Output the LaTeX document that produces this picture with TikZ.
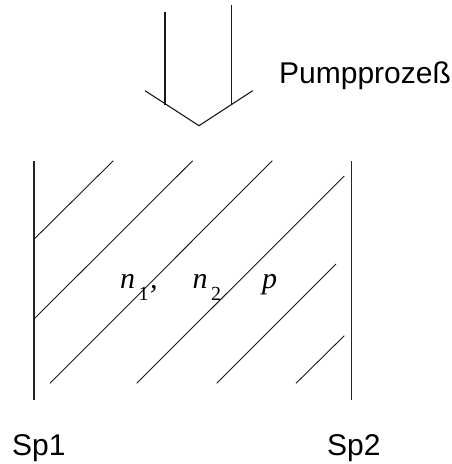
\documentclass[tikz,border=0pt]{standalone}
\usepackage{fontspec}
\setmainfont{Liberation Sans}
\newfontfamily\timesfont{Liberation Serif}
\begin{document}
\begin{tikzpicture}[x=1pt,y=-1pt,
  wall/.style={line width=1.1pt, draw=black!85},
  hatch/.style={line width=0.9pt, draw=black!90},
  arrowline/.style={line width=1.1pt, draw=black!90},
  lab/.style={inner sep=0pt, anchor=base west, font=\fontsize{30}{36}\selectfont},
  mvar/.style={inner sep=0pt, anchor=base west, font=\fontsize{30}{36}\selectfont\timesfont\itshape},
  msub/.style={inner sep=0pt, anchor=base west, font=\fontsize{20}{24}\selectfont\timesfont}]
\useasboundingbox (0,0) rectangle (451,464);
% walls
\draw[wall] (34,161) -- (34,399.5);
\draw[wall] (351.7,161) -- (351.7,399.5);
% hatching
\draw[hatch] (34,239.3) -- (113.3,160.7);
\draw[hatch] (34,319) -- (192.7,160.7);
\draw[hatch] (50,383.3) -- (272.3,160.7);
\draw[hatch] (136.7,383.3) -- (344.3,176);
\draw[hatch] (216.7,383.3) -- (336,264);
\draw[hatch] (296,383.3) -- (344.3,335.7);
% arrow
\draw[arrowline] (165,11.7) -- (165,105);
\draw[arrowline] (231.7,5) -- (231.7,105);
\draw[arrowline] (145,90.7) -- (199,125.7) -- (252.7,90.7);
% labels
\node[lab] (pump) at (279,83) {Pumpprozeß};
\node[lab] (sp1) at (12,455.5) {Sp1};
\node[lab] (sp2) at (327,455.5) {Sp2};
\node[mvar] (n1) at (120,288.3) {n};
\node[msub] (s1) at (138.5,300) {1};
\node[mvar] (c1) at (150,288.3) {,};
\node[mvar] (n2) at (192.5,288.3) {n};
\node[msub] (s2) at (211,300) {2};
\node[mvar] (pp) at (262,288.3) {p};
\end{tikzpicture}
\end{document}
